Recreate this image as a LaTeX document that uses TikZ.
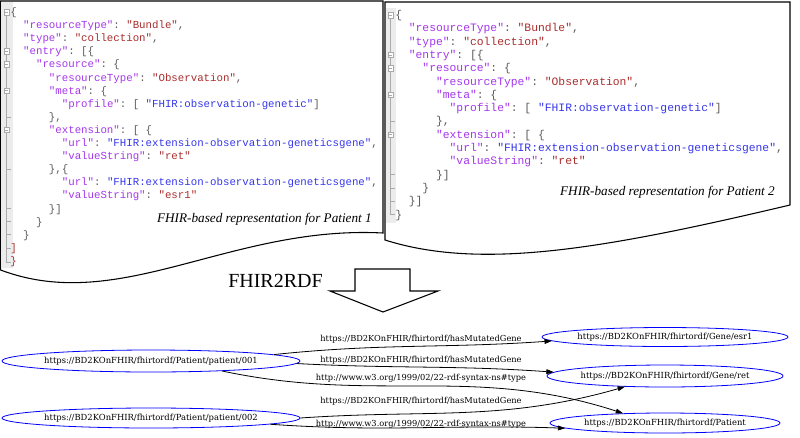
\documentclass[tikz,border=0pt]{standalone}
\usepackage{fontspec}
\usetikzlibrary{arrows.meta,shapes.geometric}
\newfontfamily\codefont{Liberation Mono}
\newfontfamily\capserif{Liberation Serif}
\newfontfamily\gfont{DejaVu Serif}
\definecolor{jkey}{RGB}{165,55,235}
\definecolor{jstr}{RGB}{170,45,45}
\definecolor{juri}{RGB}{55,55,235}
\definecolor{jpun}{RGB}{95,90,90}
\definecolor{gut}{RGB}{236,236,236}
\definecolor{gutline}{RGB}{170,170,170}
\newcommand\jk[1]{\textcolor{jkey}{"#1"}}
\newcommand\js[1]{\textcolor{jstr}{"#1"}}
\newcommand\ju[1]{\textcolor{juri}{"#1"}}
\newcommand\jp[1]{\textcolor{jpun}{#1}}
\tikzset{
  lcode/.style={anchor=base west, inner sep=0pt, font=\codefont\fontsize{8.06pt}{9pt}\selectfont\frenchspacing},
  rcode/.style={anchor=base west, inner sep=0pt, font=\codefont\fontsize{8.5pt}{9.5pt}\selectfont\frenchspacing},
  docshape/.style={draw=black, line width=0.8pt, fill=white},
  capt/.style={anchor=base east, inner sep=0pt, font=\capserif\itshape\fontsize{9.9pt}{11pt}\selectfont},
  gnode/.style={ellipse, draw=blue, line width=0.6pt, inner sep=0pt, font=\gfont\fontsize{6.3pt}{7.5pt}\selectfont},
  glabel/.style={inner sep=0pt, font=\gfont\fontsize{6.2pt}{7.5pt}\selectfont},
  gedge/.style={draw=black, line width=0.6pt, -{Triangle[length=5.5pt,width=3.6pt]}},
  guttermark/.style={draw=gutline, fill=white, line width=0.4pt},
  gutterline/.style={draw=gutline, line width=0.4pt}
}
\begin{document}
\begin{tikzpicture}[x=0.75pt,y=0.75pt]
\useasboundingbox (0,0) rectangle (800,-437);
\fill[white] (0,0) rectangle (800,-437);

% ---------- left document ----------
\path[docshape] (0.6,-1) -- (383,-1) -- (383,-233)
  .. controls (230,-225) and (120,-315) .. (0.6,-270) -- cycle;
\fill[gut] (1,-2) rectangle (13,-268);
\draw[gutterline] (6.5,-15) -- (6.5,-261);
\foreach \k in {9,13,16,17,18,19} {
  \draw[gutterline] (6.5,{-(12+13.1*(\k-1))}) -- (10.5,{-(12+13.1*(\k-1))});
}
\foreach \k in {1,4,5,7,10} {
  \pgfmathsetmacro\yy{-(12+13.1*(\k-1))}
  \draw[guttermark] (3.8,\yy-2.8) rectangle (9.2,\yy+2.8);
  \draw[gutterline] (5,\yy) -- (8,\yy);
}
\draw[gutterline] (6.5,-261) |- (10.5,-261.9);

\node[lcode] (l1) at (10,-15.5) {\jp{\{}};
\node[lcode] (l2) at (22.9,-28.6) {\jk{resourceType}\jp{: }\js{Bundle}\jp{,}};
\node[lcode] (l3) at (22.9,-41.7) {\jk{type}\jp{: }\js{collection}\jp{,}};
\node[lcode] (l4) at (22.9,-54.8) {\jk{entry}\jp{: [\{}};
\node[lcode] (l5) at (35.8,-67.9) {\jk{resource}\jp{: \{}};
\node[lcode] (l6) at (48.7,-81.0) {\jk{resourceType}\jp{: }\js{Observation}\jp{,}};
\node[lcode] (l7) at (48.7,-94.1) {\jk{meta}\jp{: \{}};
\node[lcode] (l8) at (61.6,-107.2) {\jk{profile}\jp{: [ }\ju{FHIR:observation-genetic}\jp{ ]}};
\node[lcode] (l9) at (48.7,-120.3) {\jp{\},}};
\node[lcode] (l10) at (48.7,-133.4) {\jk{extension}\jp{: [ \{}};
\node[lcode] (l11) at (61.6,-146.5) {\jk{url}\jp{: }\ju{FHIR:extension-observation-geneticsgene}\jp{,}};
\node[lcode] (l12) at (61.6,-159.6) {\jk{valueString}\jp{: }\js{ret}};
\node[lcode] (l13) at (48.7,-172.7) {\jp{\},\{}};
\node[lcode] (l14) at (61.6,-185.8) {\jk{url}\jp{: }\ju{FHIR:extension-observation-geneticsgene}\jp{,}};
\node[lcode] (l15) at (61.6,-198.9) {\jk{valueString}\jp{: }\js{esr1}};
\node[lcode] (l16) at (48.7,-212.0) {\jp{\}]}};
\node[lcode] (l17) at (35.8,-225.1) {\jp{\}}};
\node[lcode] (l18) at (22.9,-238.2) {\jp{\}}};
\node[lcode] (l19) at (10,-251.3) {\textcolor{jstr}{]}};
\node[lcode] (l20) at (10,-264.4) {\textcolor{jstr}{\}}};
\node[capt] (cap1) at (372,-222) {FHIR-based representation for Patient 1};

% ---------- right document ----------
\path[docshape] (385,-2) -- (790,-2) -- (790,-205)
  .. controls (600,-250) and (480,-270) .. (385,-240) -- cycle;
\fill[gut] (386,-8) rectangle (396,-223);
\draw[gutterline] (390.5,-18) -- (390.5,-214.5);
\foreach \k in {9,13,14,15} {
  \draw[gutterline] (390.5,{-(15+13.3*(\k-1))}) -- (394.5,{-(15+13.3*(\k-1))});
}
\foreach \k in {1,4,5,7,10} {
  \pgfmathsetmacro\yy{-(15+13.3*(\k-1))}
  \draw[guttermark] (387.8,\yy-2.8) rectangle (393.2,\yy+2.8);
  \draw[gutterline] (389,\yy) -- (392,\yy);
}
\draw[gutterline] (390.5,-214.5) |- (394.5,-214.5);

\node[rcode] (r1) at (395,-18.5) {\jp{\{}};
\node[rcode] (r2) at (408.6,-31.8) {\jk{resourceType}\jp{: }\js{Bundle}\jp{,}};
\node[rcode] (r3) at (408.6,-45.1) {\jk{type}\jp{: }\js{collection}\jp{,}};
\node[rcode] (r4) at (408.6,-58.4) {\jk{entry}\jp{: [\{}};
\node[rcode] (r5) at (422.2,-71.7) {\jk{resource}\jp{: \{}};
\node[rcode] (r6) at (435.8,-85.0) {\jk{resourceType}\jp{: }\js{Observation}\jp{,}};
\node[rcode] (r7) at (435.8,-98.3) {\jk{meta}\jp{: \{}};
\node[rcode] (r8) at (449.4,-111.6) {\jk{profile}\jp{: [ }\ju{FHIR:observation-genetic}\jp{ ]}};
\node[rcode] (r9) at (435.8,-124.9) {\jp{\},}};
\node[rcode] (r10) at (435.8,-138.2) {\jk{extension}\jp{: [ \{}};
\node[rcode] (r11) at (449.4,-151.5) {\jk{url}\jp{: }\ju{FHIR:extension-observation-geneticsgene}\jp{,}};
\node[rcode] (r12) at (449.4,-164.8) {\jk{valueString}\jp{: }\js{ret}};
\node[rcode] (r13) at (435.8,-178.1) {\jp{\}]}};
\node[rcode] (r14) at (422.2,-191.4) {\jp{\}}};
\node[rcode] (r15) at (408.6,-204.7) {\jp{\}]}};
\node[rcode] (r16) at (395,-218.0) {\jp{\}}};
\node[capt] (cap2) at (775,-195) {FHIR-based representation for Patient 2};

% ---------- transformation arrow ----------
\node[anchor=base west, inner sep=0pt, font=\capserif\fontsize{15pt}{17pt}\selectfont] (f2r) at (228,-287) {FHIR2RDF};
\draw[line width=0.8pt, fill=white] (355,-269) -- (410,-269) -- (410,-291) -- (438,-291)
  -- (383,-312) -- (330,-291) -- (355,-291) -- cycle;

% ---------- RDF graph ----------
\node[gnode, minimum width=223.5pt, minimum height=16.5pt] (p1) at (151,-361) {\makebox[0pt]{https://BD2KOnFHIR/fhirtordf/Patient/patient/001}};
\node[gnode, minimum width=223.5pt, minimum height=15pt] (p2) at (151,-418) {\makebox[0pt]{https://BD2KOnFHIR/fhirtordf/Patient/patient/002}};
\node[gnode, minimum width=184.5pt, minimum height=14.25pt] (esr1) at (665,-337) {\makebox[0pt]{https://BD2KOnFHIR/fhirtordf/Gene/esr1}};
\node[gnode, minimum width=177pt, minimum height=16.5pt] (ret) at (665,-376) {\makebox[0pt]{https://BD2KOnFHIR/fhirtordf/Gene/ret}};
\node[gnode, minimum width=172.5pt, minimum height=15pt] (pat) at (665,-423) {\makebox[0pt]{https://BD2KOnFHIR/fhirtordf/Patient}};

\draw[gedge] (p1.3) to[out=6,in=184] (esr1.182);
\draw[gedge] (p1.-1) to[out=-3,in=176] (ret.178);
\draw[gedge] (p1.-8) to[out=-12,in=162] (pat.167);
\draw[gedge] (p2.0) to[out=4,in=196] (ret.195);
\draw[gedge] (p2.-3) to[out=-4,in=178] (pat.183);

\node[glabel] (e1) at (421,-339) {https://BD2KOnFHIR/fhirtordf/hasMutatedGene};
\node[glabel] (e2) at (421,-360) {https://BD2KOnFHIR/fhirtordf/hasMutatedGene};
\node[glabel] (e3) at (421,-378) {http://www.w3.org/1999/02/22-rdf-syntax-ns\#type};
\node[glabel] (e4) at (421,-401) {https://BD2KOnFHIR/fhirtordf/hasMutatedGene};
\node[glabel] (e5) at (421,-424) {http://www.w3.org/1999/02/22-rdf-syntax-ns\#type};
\end{tikzpicture}
\end{document}
